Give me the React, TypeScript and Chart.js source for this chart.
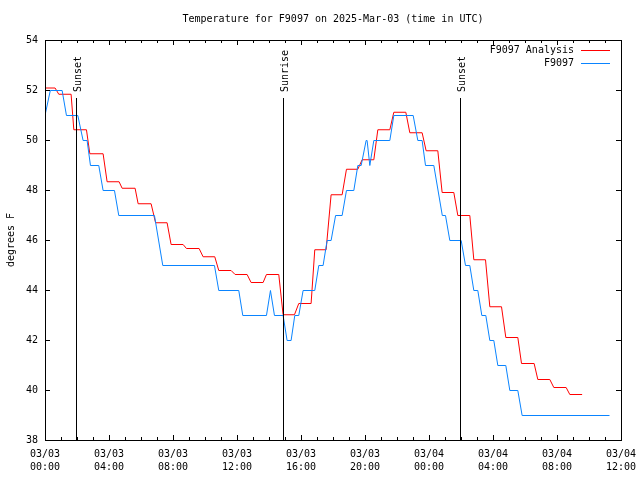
import React, { useEffect, useRef } from 'react';
import { Chart, registerables } from 'chart.js';

Chart.register(...registerables);

// ---- data (hours since 03/03 00:00 UTC, degrees F) ----
const analysisHours = [0, 0.6, 0.83, 1.6, 1.77, 2.56, 2.77, 3.6, 3.85, 4.6, 4.79, 5.6, 5.79, 6.6, 6.88, 7.6, 7.85, 8.6, 8.81, 9.6, 9.85, 10.58, 10.83, 11.6, 11.85, 12.6, 12.85, 13.6, 13.81, 14.58, 14.85, 15.56, 15.83, 16.6, 16.83, 17.54, 17.85, 18.54, 18.81, 19.52, 19.79, 20.52, 20.77, 21.52, 21.77, 22.52, 22.77, 23.54, 23.79, 24.52, 24.79, 25.52, 25.77, 26.52, 26.77, 27.5, 27.77, 28.5, 28.77, 29.52, 29.75, 30.54, 30.77, 31.52, 31.77, 32.54, 32.77, 33.54];
const analysisTemps = [52.1, 52.1, 51.85, 51.85, 50.43, 50.43, 49.47, 49.47, 48.35, 48.35, 48.09, 48.09, 47.47, 47.47, 46.71, 46.71, 45.84, 45.84, 45.68, 45.68, 45.35, 45.35, 44.8, 44.8, 44.64, 44.64, 44.32, 44.32, 44.64, 44.64, 43.03, 43.03, 43.48, 43.48, 45.63, 45.63, 47.83, 47.83, 48.85, 48.85, 49.23, 49.23, 50.43, 50.43, 51.13, 51.13, 50.31, 50.31, 49.59, 49.59, 47.92, 47.92, 47.0, 47.0, 45.23, 45.23, 43.35, 43.35, 42.12, 42.12, 41.08, 41.08, 40.44, 40.44, 40.12, 40.12, 39.84, 39.84];

const stationHours = [0, 0.3, 1.04, 1.31, 2.02, 2.35, 2.6, 2.81, 3.33, 3.6, 4.31, 4.58, 6.81, 7.33, 10.56, 10.83, 12.08, 12.33, 13.81, 14.06, 14.31, 14.85, 15.1, 15.35, 15.58, 15.83, 16.1, 16.83, 17.08, 17.35, 17.6, 17.85, 18.13, 18.54, 18.81, 19.27, 19.52, 19.73, 20.04, 20.1, 20.27, 20.52, 21.52, 21.77, 22.98, 23.27, 23.54, 23.75, 24.27, 24.8, 25.0, 25.27, 25.98, 26.25, 26.52, 26.77, 27.02, 27.27, 27.52, 27.77, 28.02, 28.27, 28.77, 29.02, 29.52, 29.79, 35.25];
const stationTemps = [51.1, 52, 52, 51, 51, 50, 50, 49, 49, 48, 48, 47, 47, 45, 45, 44, 44, 43, 43, 44, 43, 43, 42, 42, 43, 43, 44, 44, 45, 45, 46, 46, 47, 47, 48, 48, 49, 49, 50, 50, 49, 50, 50, 51, 51, 50, 50, 49, 49, 47, 47, 46, 46, 45, 45, 44, 44, 43, 43, 42, 42, 41, 41, 40, 40, 39, 39];

const eventHours = [1.94, 14.875, 25.94];
const eventLabels = ['Sunset', 'Sunrise', 'Sunset'];

const xTickHours = [0, 4, 8, 12, 16, 20, 24, 28, 32, 36];
const xTickDates = ['03/03', '03/03', '03/03', '03/03', '03/03', '03/03', '03/04', '03/04', '03/04', '03/04'];
const xTickTimes = ['00:00', '04:00', '08:00', '12:00', '16:00', '20:00', '00:00', '04:00', '08:00', '12:00'];

const seriesNames = ['F9097 Analysis', 'F9097'];
const seriesColors = ['#ff0000', '#0a84ff'];
const chartTitle = 'Temperature for F9097 on 2025-Mar-03 (time in UTC)';
const yAxisTitle = 'degrees F';

const FAMILY = "'DejaVu Sans Mono', monospace";
const FONT = `10px ${FAMILY}`;

const decor = {
  id: 'gnuplotDecor',
  beforeDatasetsDraw(chart: any) {
    chart.ctx.save();
    chart.ctx.translate(0.5, 0.5);
  },
  afterDatasetsDraw(chart: any) {
    chart.ctx.restore();
  },
  afterDraw(chart: any) {
    const { ctx, chartArea: a, scales } = chart;
    const xs = scales.x;
    const ys = scales.y;
    ctx.save();
    ctx.strokeStyle = '#000';
    ctx.fillStyle = '#000';
    ctx.lineWidth = 1;

    // event lines + labels
    ctx.font = FONT;
    eventHours.forEach((h, i) => {
      const px = Math.round(xs.getPixelForValue(h)) + 0.5;
      ctx.beginPath();
      ctx.moveTo(px, a.top + 58);
      ctx.lineTo(px, a.bottom);
      ctx.stroke();
      ctx.save();
      ctx.translate(px + 2, a.top + 52);
      ctx.rotate(-Math.PI / 2);
      ctx.textAlign = 'left';
      ctx.textBaseline = 'middle';
      ctx.fillText(eventLabels[i], 0, 0);
      ctx.restore();
    });

    // border
    ctx.strokeRect(a.left + 0.5, a.top + 0.5, a.right - a.left, a.bottom - a.top);

    // ticks (inward, mirrored)
    ctx.beginPath();
    xs.ticks.forEach((t: any) => {
      const px = Math.round(xs.getPixelForValue(t.value)) + 0.5;
      const len = t.value % 4 === 0 ? 5 : 3;
      ctx.moveTo(px, a.bottom);
      ctx.lineTo(px, a.bottom - len);
      ctx.moveTo(px, a.top);
      ctx.lineTo(px, a.top + len);
    });
    ys.ticks.forEach((t: any) => {
      const py = Math.round(ys.getPixelForValue(t.value)) + 0.5;
      ctx.moveTo(a.left, py);
      ctx.lineTo(a.left + 5, py);
      ctx.moveTo(a.right, py);
      ctx.lineTo(a.right - 5, py);
    });
    ctx.stroke();

    // title
    ctx.font = FONT;
    ctx.textAlign = 'center';
    ctx.textBaseline = 'middle';
    ctx.fillText(chartTitle, (a.left + a.right) / 2, 19);

    // legend
    ctx.textAlign = 'right';
    const rows = [50, 63];
    seriesNames.forEach((name, i) => {
      ctx.fillStyle = '#000';
      ctx.fillText(name, a.right - 47, rows[i]);
      ctx.strokeStyle = seriesColors[i];
      ctx.beginPath();
      ctx.moveTo(a.right - 40, rows[i] + 0.5);
      ctx.lineTo(a.right - 11, rows[i] + 0.5);
      ctx.stroke();
    });
    ctx.restore();
  },
};

export default function App() {
  const ref = useRef<HTMLCanvasElement | null>(null);

  useEffect(() => {
    if (!ref.current) return;
    const tickFont = { family: FAMILY, size: 10, lineHeight: 1.3 };
    const chart = new Chart(ref.current, {
      type: 'line',
      data: {
        datasets: [
          {
            label: seriesNames[1],
            data: stationHours.map((h, i) => ({ x: h, y: stationTemps[i] })),
            borderColor: seriesColors[1],
            backgroundColor: seriesColors[1],
            borderWidth: 1,
            pointRadius: 0,
            tension: 0,
            fill: false,
            order: 0,
          },
          {
            label: seriesNames[0],
            data: analysisHours.map((h, i) => ({ x: h, y: analysisTemps[i] })),
            borderColor: seriesColors[0],
            backgroundColor: seriesColors[0],
            borderWidth: 1,
            pointRadius: 0,
            tension: 0,
            fill: false,
            order: 1,
          },
        ],
      },
      options: {
        responsive: false,
        animation: false,
        devicePixelRatio: 1,
        layout: { padding: { left: 0, top: 40, right: 19, bottom: 0 } },
        plugins: {
          legend: { display: false },
          tooltip: { enabled: false },
          title: { display: false },
        },
        scales: {
          x: {
            type: 'linear',
            min: 0,
            max: 36,
            afterFit: (s: any) => {
              s.height = 40;
              s.paddingLeft = 0;
              s.paddingRight = 0;
            },
            grid: { display: false, drawTicks: false },
            border: { display: false },
            ticks: {
              stepSize: 1,
              autoSkip: false,
              maxRotation: 0,
              minRotation: 0,
              padding: 8,
              color: '#000',
              font: tickFont,
              callback: (v: any) => {
                const i = xTickHours.indexOf(Number(v));
                return i < 0 ? '' : [xTickDates[i], xTickTimes[i]];
              },
            },
          },
          y: {
            type: 'linear',
            min: 38,
            max: 54,
            afterFit: (s: any) => {
              s.width = 45;
              s.paddingTop = 0;
              s.paddingBottom = 0;
            },
            grid: { display: false, drawTicks: false },
            border: { display: false },
            ticks: { stepSize: 2, padding: 7, color: '#000', font: tickFont },
            title: {
              display: true,
              text: yAxisTitle,
              color: '#000',
              font: { family: FAMILY, size: 10, lineHeight: 1.2 },
              padding: { top: 5, bottom: 0 },
            },
          },
        },
      },
      plugins: [decor],
    } as any);
    return () => chart.destroy();
  }, []);

  return (
    <div style={{ position: 'absolute', left: 0, top: 0, width: 640, height: 480, background: '#fff' }}>
      <canvas ref={ref} width={640} height={480} style={{ display: 'block', width: 640, height: 480 }} />
    </div>
  );
}
